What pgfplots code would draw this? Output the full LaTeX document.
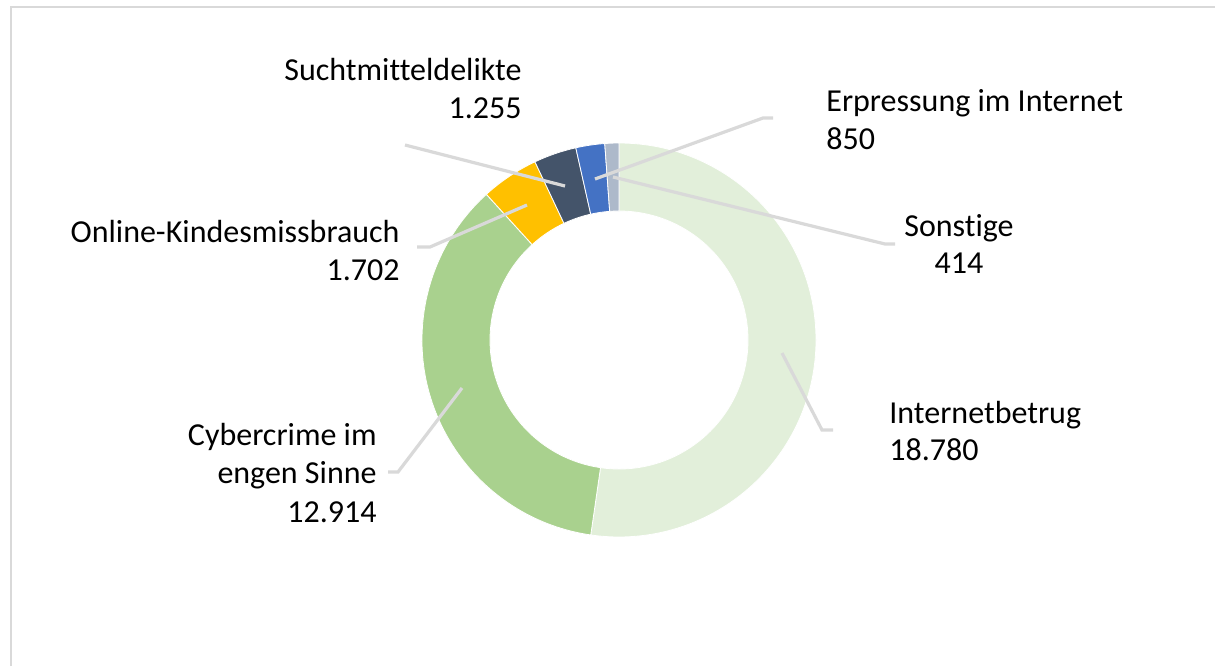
\documentclass[border=0pt]{standalone}
\usepackage{fontspec}
\setmainfont[Ligatures={NoCommon,NoDiscretionary,NoContextual},Contextuals=NoAlternate]{Carlito}
\usepackage{pgfplots}
\pgfplotsset{compat=1.18}
\definecolor{cIB}{HTML}{E2EFDA}
\definecolor{cCC}{HTML}{A9D18E}
\definecolor{cOK}{HTML}{FFC000}
\definecolor{cSM}{HTML}{44546A}
\definecolor{cEI}{HTML}{4472C4}
\definecolor{cSO}{HTML}{ADB9CA}
\definecolor{leader}{HTML}{D9D9D9}
\definecolor{frame}{HTML}{D9D9D9}
\newcommand{\lbl}{\fontsize{16}{18.5}\selectfont}
\begin{document}
\begin{tikzpicture}
\begin{axis}[width=607.5pt,height=333pt,scale only axis,
  xmin=0,xmax=1215,ymin=0,ymax=666,hide axis,clip=false]
\coordinate (sw) at (axis cs:0,0);
\coordinate (ne) at (axis cs:1215,666);
% frame
\addplot[draw=frame,line width=1pt] coordinates {(10.5,0) (10.5,659) (1215,659)};
% donut: values in order, clockwise from top
\def\total{35915}
\gdef\cum{0}
\foreach \v/\c in {18780/cIB,12914/cCC,1702/cOK,1255/cSM,850/cEI,414/cSO}{
  \edef\a{\fpeval{90-360*\cum/\total}}
  \edef\b{\fpeval{90-360*(\cum+\v)/\total}}
  \edef\temp{\noexpand\fill[\c,draw=white,line width=0.4pt]
    ([shift={(\a:98.5pt)}]axis cs:619,326) arc[start angle=\a,end angle=\b,radius=98.5pt]
    -- ([shift={(\b:64.5pt)}]axis cs:619,326) arc[start angle=\b,end angle=\a,radius=64.5pt] -- cycle;}
  \temp
  \xdef\cum{\fpeval{\cum+\v}}
}
% leader lines
\addplot[draw=leader,line width=1.6pt] coordinates {(565,480) (405,521)};
\addplot[draw=leader,line width=1.6pt] coordinates {(527,461) (430,419) (417,419)};
\addplot[draw=leader,line width=1.6pt] coordinates {(595,487) (763,548) (773,548)};
\addplot[draw=leader,line width=1.6pt] coordinates {(613,489) (885,422) (895,422)};
\addplot[draw=leader,line width=1.6pt] coordinates {(782,313) (822,236) (833,236)};
\addplot[draw=leader,line width=1.6pt] coordinates {(462,278) (398,194) (388,194)};
% labels
\node[anchor=base east,inner sep=0,font=\lbl] at (axis cs:522,586) {Suchtmitteldelikte};
\node[anchor=base east,inner sep=0,font=\lbl] at (axis cs:522,548) {1.255};
\node[anchor=base west,inner sep=0,font=\lbl] at (axis cs:826,555) {Erpressung im Internet};
\node[anchor=base west,inner sep=0,font=\lbl] at (axis cs:826,517) {850};
\node[anchor=base,inner sep=0,font=\lbl] at (axis cs:959,430) {Sonstige};
\node[anchor=base,inner sep=0,font=\lbl] at (axis cs:959,393) {414};
\node[anchor=base east,inner sep=0,font=\lbl] at (axis cs:400,424) {Online-Kindesmissbrauch};
\node[anchor=base east,inner sep=0,font=\lbl] at (axis cs:400,386) {1.702};
\node[anchor=base west,inner sep=0,font=\lbl] at (axis cs:889,243) {Internetbetrug};
\node[anchor=base west,inner sep=0,font=\lbl] at (axis cs:889,206) {18.780};
\node[anchor=base east,inner sep=0,font=\lbl] at (axis cs:377,221) {Cybercrime im};
\node[anchor=base east,inner sep=0,font=\lbl] at (axis cs:377,183) {engen Sinne};
\node[anchor=base east,inner sep=0,font=\lbl] at (axis cs:377,144) {12.914};
\end{axis}
\pgfresetboundingbox
\path[use as bounding box] (sw) rectangle (ne);
\end{tikzpicture}
\end{document}
